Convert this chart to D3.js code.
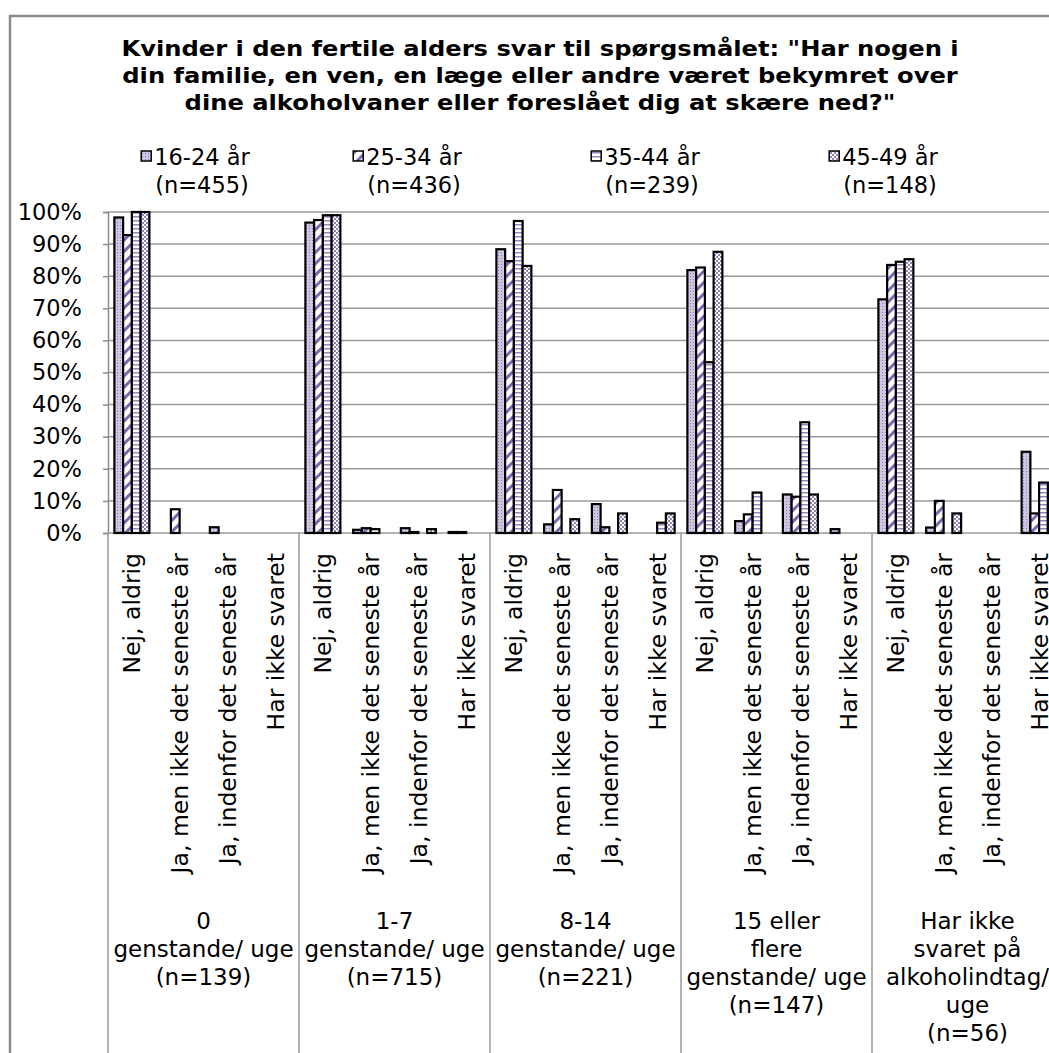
<!DOCTYPE html>
<html>
<head>
<meta charset="utf-8">
<script src="https://cdn.jsdelivr.net/npm/d3@7"></script>
<style>
  body { margin: 0; background: #fff; }
  text { font-family: 'DejaVu Sans', Verdana, sans-serif; fill: #000; }
</style>
</head>
<body>
<div id="chart"></div>
<script>
var titleLines = [
  'Kvinder i den fertile alders svar til spørgsmålet: "Har nogen i',
  'din familie, en ven, en læge eller andre været bekymret over',
  'dine alkoholvaner eller foreslået dig at skære ned?"'
]

var series = ['16-24 år', '25-34 år', '35-44 år', '45-49 år']
var seriesN = ['(n=455)', '(n=436)', '(n=239)', '(n=148)']

var answers = [
  'Nej, aldrig',
  'Ja, men ikke det seneste år',
  'Ja, indenfor det seneste år',
  'Har ikke svaret'
]

var groups = [
  ['0', 'genstande/ uge', '(n=139)'],
  ['1-7', 'genstande/ uge', '(n=715)'],
  ['8-14', 'genstande/ uge', '(n=221)'],
  ['15 eller', 'flere', 'genstande/ uge', '(n=147)'],
  ['Har ikke', 'svaret på', 'alkoholindtag/', 'uge', '(n=56)']
]

// percent per group, per answer (4 values each, one per group)
var v1624 = [
  [98.3, 0, 1.8, 0],
  [96.7, 1.0, 1.5, 0.3],
  [88.4, 2.7, 9.0, 0],
  [81.9, 3.7, 12.0, 1.2],
  [72.8, 1.7, 0, 25.3]
]
var v2534 = [
  [92.8, 7.4, 0, 0],
  [97.5, 1.5, 0.3, 0.3],
  [84.7, 13.4, 1.8, 0],
  [82.7, 5.8, 11.3, 0],
  [83.5, 10.0, 0, 6.1]
]
var v3544 = [
  [100, 0, 0, 0],
  [99.0, 1.2, 0, 0],
  [97.2, 0, 0, 3.2],
  [53.2, 12.6, 34.5, 0],
  [84.5, 0, 0, 15.7]
]
var v4549 = [
  [100, 0, 0, 0],
  [99.0, 0, 1.2, 0],
  [83.2, 4.3, 6.1, 6.1],
  [87.6, 0, 12.0, 0],
  [85.3, 6.1, 0, 8.6]
]
var seriesValues = [v1624, v2534, v3544, v4549]

var yTicks = [0, 10, 20, 30, 40, 50, 60, 70, 80, 90, 100]

var width = 1049
var height = 1053
var plot = { left: 108, top: 212, bottom: 533, groupW: 191 }

var svg = d3
  .select('#chart')
  .append('svg')
  .attr('width', width)
  .attr('height', height)

// patterns for the four age groups
var defs = svg.append('defs')
var purple = '#7f68b3'

var p1 = defs.append('pattern').attr('id', 'pat0')
  .attr('width', 3).attr('height', 3).attr('patternUnits', 'userSpaceOnUse')
p1.append('rect').attr('width', 3).attr('height', 3).attr('fill', '#cfc6e2')
p1.append('rect').attr('width', 1).attr('height', 1).attr('fill', '#8e7bbb')

var p2 = defs.append('pattern').attr('id', 'pat1')
  .attr('width', 8).attr('height', 8).attr('patternUnits', 'userSpaceOnUse')
  .attr('patternTransform', 'rotate(-45)')
p2.append('rect').attr('width', 8).attr('height', 8).attr('fill', '#fff')
p2.append('rect').attr('width', 8).attr('height', 3).attr('fill', purple)

var p3 = defs.append('pattern').attr('id', 'pat2')
  .attr('width', 4).attr('height', 4).attr('patternUnits', 'userSpaceOnUse')
p3.append('rect').attr('width', 4).attr('height', 4).attr('fill', '#fff')
p3.append('rect').attr('width', 4).attr('height', 1.5).attr('fill', '#9885c2')

var p4 = defs.append('pattern').attr('id', 'pat3')
  .attr('width', 4).attr('height', 4).attr('patternUnits', 'userSpaceOnUse')
p4.append('rect').attr('width', 4).attr('height', 4).attr('fill', '#fff')
p4.append('rect').attr('width', 2).attr('height', 2).attr('fill', '#9580c0')
p4.append('rect').attr('x', 2).attr('y', 2).attr('width', 2).attr('height', 2).attr('fill', '#9580c0')

// outer frame (chart continues past the right and bottom edge)
svg.append('rect')
  .attr('x', 10).attr('y', 16)
  .attr('width', 1200).attr('height', 1200)
  .attr('fill', 'none')
  .attr('stroke', '#8c8c8c')
  .attr('stroke-width', 2.5)

// title (Verdana-like width: stretch DejaVu a little sideways)
svg.append('g')
  .attr('transform', 'translate(540,0) scale(1.1,1)')
  .selectAll('text')
  .data(titleLines)
  .enter()
  .append('text')
  .attr('x', 0)
  .attr('y', (d, i) => 56 + i * 27)
  .attr('text-anchor', 'middle')
  .attr('font-weight', 'bold')
  .attr('font-size', 22)
  .text(d => d)

// legend
var legendX = [202, 414, 652, 890]
var legend = svg.append('g')
  .selectAll('g')
  .data(series)
  .enter()
  .append('g')
  .attr('transform', (d, i) => 'translate(' + legendX[i] + ',0)')
legend.append('text')
  .attr('y', 165)
  .attr('text-anchor', 'middle')
  .attr('font-size', 22.5)
  .text(d => d)
legend.append('text')
  .attr('y', 193)
  .attr('text-anchor', 'middle')
  .attr('font-size', 22.5)
  .text((d, i) => seriesN[i])
legend.each(function (d, i) {
  var g = d3.select(this)
  var w = g.select('text').node().getComputedTextLength()
  g.append('rect')
    .attr('x', -w / 2 - 13)
    .attr('y', 151)
    .attr('width', 10)
    .attr('height', 10)
    .attr('fill', 'url(#pat' + i + ')')
    .attr('stroke', '#000')
    .attr('stroke-width', 1.5)
})

// scales
var x0 = d3.scaleBand()
  .domain(d3.range(groups.length))
  .range([plot.left, plot.left + plot.groupW * groups.length])
var x1 = d3.scaleBand()
  .domain(answers)
  .range([0, x0.bandwidth()])
var x2 = d3.scaleBand()
  .domain(series)
  .range([0, x1.bandwidth()])
  .paddingInner(0)
  .paddingOuter(0.73)
var y = d3.scaleLinear()
  .domain([0, 100])
  .range([plot.bottom, plot.top])

// gridlines
svg.append('g')
  .selectAll('line')
  .data(yTicks)
  .enter()
  .append('line')
  .attr('x1', plot.left)
  .attr('x2', width + 20)
  .attr('y1', d => y(d))
  .attr('y2', d => y(d))
  .attr('stroke', '#9a9a9a')
  .attr('stroke-width', 1.5)

// y axis
var yAxis = svg.append('g')
  .attr('transform', 'translate(' + plot.left + ',0)')
  .call(d3.axisLeft(y).tickValues(yTicks).tickFormat(d => d + '%').tickSize(5).tickPadding(21))
yAxis.select('.domain').attr('stroke', '#8c8c8c').attr('stroke-width', 1.5)
yAxis.selectAll('.tick line').attr('stroke', '#8c8c8c').attr('stroke-width', 1.5)
yAxis.selectAll('.tick text')
  .attr('font-size', 22.5)
  .attr('font-family', "'DejaVu Sans', Verdana, sans-serif")
  .attr('fill', '#000')

// category separators in the label area
svg.append('g')
  .selectAll('line')
  .data(d3.range(groups.length + 1))
  .enter()
  .append('line')
  .attr('x1', d => plot.left + d * plot.groupW)
  .attr('x2', d => plot.left + d * plot.groupW)
  .attr('y1', plot.bottom)
  .attr('y2', height + 10)
  .attr('stroke', '#9a9a9a')
  .attr('stroke-width', 1.5)

// bars
var rows = []
groups.forEach((g, gi) => {
  answers.forEach((a, ai) => {
    series.forEach((s, si) => {
      rows.push({ g: gi, a: a, s: s, si: si, v: seriesValues[si][gi][ai] })
    })
  })
})

svg.append('g')
  .selectAll('rect')
  .data(rows.filter(d => d.v > 0))
  .enter()
  .append('rect')
  .attr('x', d => x0(d.g) + x1(d.a) + x2(d.s))
  .attr('y', d => y(d.v))
  .attr('width', x2.bandwidth())
  .attr('height', d => y(0) - y(d.v))
  .attr('fill', d => 'url(#pat' + d.si + ')')
  .attr('stroke', '#000')
  .attr('stroke-width', 2.2)

// answer labels (rotated)
var catLabels = []
groups.forEach((g, gi) => {
  answers.forEach(a => catLabels.push({ g: gi, a: a }))
})
svg.append('g')
  .selectAll('text')
  .data(catLabels)
  .enter()
  .append('text')
  .attr('transform', d => 'translate(' + (x0(d.g) + x1(d.a) + x1.bandwidth() / 2) + ',553) rotate(-90)')
  .attr('text-anchor', 'end')
  .attr('dy', '0.36em')
  .attr('font-size', 23.5)
  .text(d => d.a)

// group labels
var groupLabel = svg.append('g')
  .selectAll('text')
  .data(groups)
  .enter()
  .append('text')
  .attr('x', (d, i) => x0(i) + x0.bandwidth() / 2)
  .attr('y', 929)
  .attr('text-anchor', 'middle')
  .attr('font-size', 23)
groupLabel.selectAll('tspan')
  .data(d => d)
  .enter()
  .append('tspan')
  .attr('x', function () { return d3.select(this.parentNode).attr('x') })
  .attr('dy', (d, i) => (i === 0 ? 0 : 28))
  .text(d => d)
</script>
</body>
</html>
